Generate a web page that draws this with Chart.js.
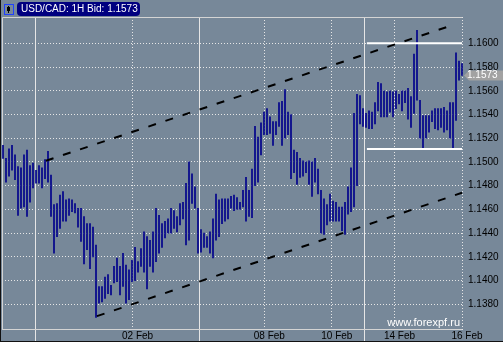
<!DOCTYPE html>
<html>
<head>
<meta charset="utf-8">
<script src="https://cdn.jsdelivr.net/npm/chart.js@4"></script>
<style>
html, body { margin: 0; padding: 0; background: #778899; }
canvas { display: block; }
</style>
</head>
<body>
<canvas id="usdcad" width="503" height="342"></canvas>
<script>
// USD/CAD hourly bars, one entry per bar (high / low)
const barHigh = [
  1.1514, 1.1503, 1.1511, 1.1514, 1.1506, 1.1496, 1.1495, 1.1506, 1.1510, 1.1497,
  1.1499, 1.1493, 1.1497, 1.1495, 1.1502, 1.1509, 1.1489, 1.1464, 1.1465, 1.1472,
  1.1475, 1.1468, 1.1469, 1.1468, 1.1465, 1.1461, 1.1461, 1.1454, 1.1448, 1.1448,
  1.1445, 1.1430, 1.1395, 1.1395, 1.1403, 1.1405, 1.1396, 1.1412, 1.1419, 1.1412,
  1.1423, 1.1413, 1.1409, 1.1417, 1.1428, 1.1416, 1.1427, 1.1441, 1.1437, 1.1434,
  1.1441, 1.1461, 1.1455, 1.1448, 1.1450, 1.1452, 1.1461, 1.1459, 1.1454, 1.1465,
  1.1466, 1.1482, 1.1500, 1.1490, 1.1479, 1.1461, 1.1443, 1.1440, 1.1437, 1.1441,
  1.1452, 1.1473, 1.1468, 1.1469, 1.1469, 1.1469, 1.1471, 1.1472, 1.1470, 1.1466,
  1.1476, 1.1487, 1.1476, 1.1494, 1.1530, 1.1521, 1.1533, 1.1542, 1.1545, 1.1538,
  1.1534, 1.1534, 1.1550, 1.1551, 1.1561, 1.1542, 1.1540, 1.1510, 1.1508, 1.1503,
  1.1501, 1.1500, 1.1501, 1.1500, 1.1503, 1.1494, 1.1476, 1.1469, 1.1464, 1.1473,
  1.1467, 1.1466, 1.1462, 1.1462, 1.1466, 1.1479, 1.1495, 1.1541, 1.1557, 1.1556,
  1.1545, 1.1541, 1.1543, 1.1542, 1.1550, 1.1567, 1.1566, 1.1560, 1.1559, 1.1560,
  1.1559, 1.1560, 1.1557, 1.1560, 1.1560, 1.1562, 1.1555, 1.1591, 1.1611, 1.1552,
  1.1539, 1.1539, 1.1539, 1.1543, 1.1545, 1.1545, 1.1545, 1.1546, 1.1543, 1.1550,
  1.1550, 1.1592, 1.1585, 1.1583
];
const barLow = [
  1.1503, 1.1483, 1.1488, 1.1493, 1.1485, 1.1455, 1.1461, 1.1462, 1.1454, 1.1466,
  1.1478, 1.1482, 1.1482, 1.1478, 1.1486, 1.1483, 1.1454, 1.1423, 1.1437, 1.1444,
  1.1450, 1.1450, 1.1455, 1.1458, 1.1457, 1.1445, 1.1433, 1.1414, 1.1426, 1.1410,
  1.1420, 1.1369, 1.1381, 1.1382, 1.1385, 1.1389, 1.1388, 1.1398, 1.1399, 1.1388,
  1.1395, 1.1381, 1.1384, 1.1399, 1.1400, 1.1407, 1.1412, 1.1407, 1.1393, 1.1412,
  1.1407, 1.1416, 1.1423, 1.1428, 1.1436, 1.1440, 1.1440, 1.1444, 1.1441, 1.1447,
  1.1452, 1.1430, 1.1434, 1.1465, 1.1461, 1.1423, 1.1424, 1.1428, 1.1428, 1.1423,
  1.1419, 1.1434, 1.1437, 1.1448, 1.1450, 1.1452, 1.1461, 1.1459, 1.1460, 1.1460,
  1.1462, 1.1450, 1.1454, 1.1453, 1.1480, 1.1483, 1.1506, 1.1523, 1.1523, 1.1524,
  1.1514, 1.1523, 1.1530, 1.1514, 1.1520, 1.1523, 1.1486, 1.1491, 1.1481, 1.1487,
  1.1488, 1.1491, 1.1481, 1.1471, 1.1483, 1.1473, 1.1440, 1.1439, 1.1447, 1.1450,
  1.1450, 1.1450, 1.1450, 1.1442, 1.1439, 1.1456, 1.1458, 1.1462, 1.1480, 1.1532,
  1.1530, 1.1529, 1.1528, 1.1528, 1.1532, 1.1543, 1.1538, 1.1538, 1.1538, 1.1542,
  1.1538, 1.1545, 1.1549, 1.1543, 1.1550, 1.1536, 1.1529, 1.1541, 1.1552, 1.1520,
  1.1511, 1.1520, 1.1525, 1.1534, 1.1528, 1.1527, 1.1529, 1.1525, 1.1527, 1.1520,
  1.1511, 1.1535, 1.1569, 1.1573
];
const lastBid = 1.1573;

// date ticks (bar index) and their labels
const dateTicks = [43.2, 87.1, 109.6, 130.5, 153];
const dateLabels = ['02 Feb', '08 Feb', '10 Feb', '14 Feb', '16 Feb'];
const weekBreaks = [10.8, 65.4, 120.5];

const priceTicks = [1.1380, 1.1400, 1.1420, 1.1440, 1.1460, 1.1480, 1.1500,
                    1.1520, 1.1540, 1.1560, 1.1580, 1.1600];

// trend channel and range lines: [start, end] as bar index / price
const upperX = [14.3, 150.7], upperY = [1.1501, 1.1616];
const lowerX = [31.3, 153], lowerY = [1.1370, 1.1474];
const rangeX = [121.3, 153];
const rangeTop = 1.1600, rangeBottom = 1.1511;

const FONT = '"Liberation Sans", Arial, sans-serif';

function pts(xs, ys) {
  return xs.map((x, i) => ({x: x, y: ys[i]}));
}

const chrome = {
  id: 'chrome',
  beforeDraw(chart) {
    const ctx = chart.ctx;
    ctx.save();
    ctx.fillStyle = '#778899';
    ctx.fillRect(0, 0, chart.width, chart.height);
    ctx.restore();
  },
  beforeDatasetsDraw(chart) {
    const {ctx, chartArea: a, scales: {x}} = chart;
    ctx.save();
    ctx.lineWidth = 1;
    ctx.strokeStyle = '#e6e6e6';
    weekBreaks.forEach(v => {
      const px = Math.round(x.getPixelForValue(v)) + 0.5;
      ctx.beginPath();
      ctx.moveTo(px, a.top);
      ctx.lineTo(px, chart.height);
      ctx.stroke();
    });
    // plot frame
    ctx.strokeStyle = '#d4d4d4';
    ctx.beginPath();
    ctx.moveTo(2.5, a.bottom);
    ctx.lineTo(2.5, a.top + 0.5);
    ctx.lineTo(x.getPixelForValue(153), a.top + 0.5);
    ctx.moveTo(2, a.bottom - 0.5);
    ctx.lineTo(x.getPixelForValue(153), a.bottom - 0.5);
    ctx.stroke();
    ctx.restore();
  },
  afterDraw(chart) {
    const {ctx, chartArea: a, scales: {y}} = chart;
    ctx.save();

    // outer edge
    ctx.fillStyle = '#111';
    ctx.fillRect(0, 0, 1, chart.height);
    ctx.fillRect(0, chart.height - 1, chart.width, 1);

    // icon
    ctx.strokeStyle = '#2040ff';
    ctx.lineWidth = 1;
    ctx.strokeRect(4.5, 4.5, 9, 10);
    ctx.fillStyle = '#000';
    ctx.fillRect(8, 6, 1, 7);
    ctx.fillRect(7, 7, 3, 4);

    // title box
    const bx = 17, by = 2, bw = 123, bh = 14, r = 4;
    ctx.fillStyle = '#000080';
    ctx.beginPath();
    ctx.moveTo(bx + r, by);
    ctx.lineTo(bx + bw - r, by);
    ctx.arcTo(bx + bw, by, bx + bw, by + r, r);
    ctx.lineTo(bx + bw, by + bh - r);
    ctx.arcTo(bx + bw, by + bh, bx + bw - r, by + bh, r);
    ctx.lineTo(bx + r, by + bh);
    ctx.arcTo(bx, by + bh, bx, by + bh - r, r);
    ctx.lineTo(bx, by + r);
    ctx.arcTo(bx, by, bx + r, by, r);
    ctx.fill();
    ctx.fillStyle = '#fff';
    ctx.font = '10px ' + FONT;
    ctx.textBaseline = 'middle';
    ctx.textAlign = 'left';
    ctx.fillText('USD/CAD: 1H Bid: ' + lastBid.toFixed(4), 21, 9.5);

    // last price tag
    const ty = Math.round(y.getPixelForValue(lastBid)) + 0.5;
    const tx = a.right;
    ctx.fillStyle = '#a2a2a2';
    ctx.beginPath();
    ctx.moveTo(tx, ty);
    ctx.lineTo(tx + 5, ty - 5);
    ctx.lineTo(chart.width, ty - 5);
    ctx.lineTo(chart.width, ty + 5);
    ctx.lineTo(tx + 5, ty + 5);
    ctx.closePath();
    ctx.fill();
    ctx.fillStyle = '#fff';
    ctx.font = '10px ' + FONT;
    ctx.fillText(lastBid.toFixed(4), 467, ty);

    // watermark
    ctx.font = '11px ' + FONT;
    ctx.textAlign = 'right';
    ctx.textBaseline = 'alphabetic';
    ctx.fillText('www.forexpf.ru', 460, 326);
    ctx.restore();
  }
};

new Chart(document.getElementById('usdcad'), {
  type: 'bar',
  data: {
    datasets: [
      {
        type: 'line',
        data: pts(upperX, upperY),
        borderColor: '#000',
        borderWidth: 2,
        borderDash: [8, 10],
        pointRadius: 0,
        order: 1
      },
      {
        type: 'line',
        data: pts(lowerX, lowerY),
        borderColor: '#000',
        borderWidth: 2,
        borderDash: [8, 10],
        pointRadius: 0,
        order: 1
      },
      {
        type: 'line',
        data: pts(rangeX, [rangeTop, rangeTop]),
        borderColor: '#fff',
        borderWidth: 2,
        pointRadius: 0,
        order: 1
      },
      {
        type: 'line',
        data: pts(rangeX, [rangeBottom, rangeBottom]),
        borderColor: '#fff',
        borderWidth: 2,
        pointRadius: 0,
        order: 1
      },
      {
        type: 'bar',
        data: barHigh.map((h, i) => ({x: i, y: [barLow[i], h]})),
        backgroundColor: '#00008b',
        borderWidth: 0,
        barThickness: 1,
        grouped: false,
        order: 2
      }
    ]
  },
  options: {
    responsive: false,
    animation: false,
    devicePixelRatio: 1,
    layout: { padding: { left: 2, top: 17, right: 0, bottom: 1 } },
    plugins: { legend: { display: false }, tooltip: { enabled: false } },
    scales: {
      x: {
        type: 'linear',
        offset: false,
        min: -1 / 3,
        max: 153 + 2 / 3,
        afterFit(scale) { scale.height = 11; },
        afterBuildTicks(scale) { scale.ticks = dateTicks.map(v => ({value: v})); },
        grid: { color: '#e6e6e6', drawTicks: false, offset: false },
        border: { display: false, dash: [1, 2] },
        ticks: {
          autoSkip: false,
          maxRotation: 0,
          padding: 0,
          labelOffset: 5,
          color: '#000',
          font: { family: FONT, size: 10 },
          callback: (v, i) => dateLabels[i]
        }
      },
      y: {
        type: 'linear',
        position: 'right',
        min: 1.135834,
        max: 1.162217,
        afterFit(scale) { scale.width = 39; },
        afterBuildTicks(scale) { scale.ticks = priceTicks.map(v => ({value: v})); },
        grid: { color: '#e6e6e6', drawTicks: false },
        border: { display: false, dash: [1, 2] },
        ticks: {
          padding: 4,
          color: '#000',
          font: { family: FONT, size: 10 },
          callback: v => v.toFixed(4)
        }
      }
    }
  },
  plugins: [chrome]
});
</script>
</body>
</html>
